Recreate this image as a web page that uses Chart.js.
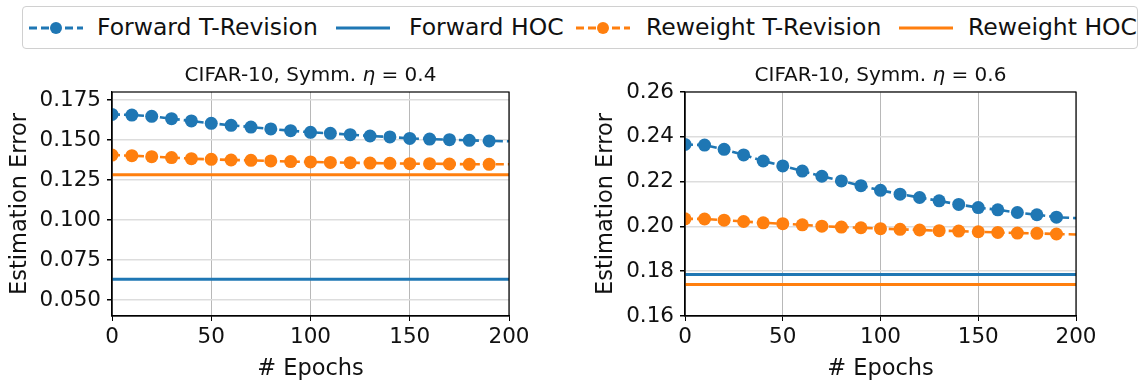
<!DOCTYPE html>
<html><head><meta charset="utf-8">
<script src="https://cdn.jsdelivr.net/npm/chart.js@4.4.0/dist/chart.umd.min.js"></script>
<style>
html,body{margin:0;padding:0;background:#fff;width:1145px;height:383px;overflow:hidden;font-family:"DejaVu Sans",sans-serif;}
#legend{position:absolute;left:22px;top:6px;width:1116px;height:43px;border:1px solid #d0d0d0;border-radius:4px;box-sizing:border-box;}
.sw{position:absolute;top:11px;}
.lt{position:absolute;top:0;height:41px;line-height:41px;font-size:23.5px;color:#111;white-space:nowrap;}
.cw{position:absolute;top:50px;}
</style></head><body>
<div id="legend"></div>
<div class="cw" style="left:0px"><canvas id="c1" width="560" height="333"></canvas></div>
<div class="cw" style="left:575px"><canvas id="c2" width="570" height="333"></canvas></div>
<script>
const BLUE = '#1f77b4', ORANGE = '#ff7f0e';
const legendLabels = ['Forward T-Revision','Forward HOC','Reweight T-Revision','Reweight HOC'];
const epochs = [0,10,20,30,40,50,60,70,80,90,100,110,120,130,140,150,160,170,180,190,200];
const hocEpochs = [0,200];
// left panel: eta = 0.4
const leftFwdTRev = [0.1660,0.1656,0.1648,0.1633,0.1619,0.1604,0.1592,0.1581,0.1569,0.1558,0.1548,0.1542,0.1533,0.1525,0.1519,0.1510,0.1506,0.1502,0.1498,0.1494,0.1492];
const leftRwTRev  = [0.1406,0.1402,0.1396,0.1390,0.1383,0.1379,0.1375,0.1373,0.1369,0.1365,0.1363,0.1360,0.1358,0.1356,0.1354,0.1352,0.1352,0.1350,0.1348,0.1348,0.1348];
const leftFwdHOC = 0.0629;
const leftRwHOC  = 0.1283;
const leftYTicks = [0.050,0.075,0.100,0.125,0.150,0.175];
// right panel: eta = 0.6
const rightFwdTRev = [0.2366,0.2363,0.2344,0.2319,0.2292,0.2270,0.2247,0.2224,0.2203,0.2182,0.2161,0.2144,0.2129,0.2114,0.2098,0.2084,0.2074,0.2062,0.2052,0.2041,0.2037];
const rightRwTRev  = [0.2034,0.2033,0.2028,0.2022,0.2016,0.2012,0.2007,0.2001,0.1997,0.1994,0.1990,0.1987,0.1984,0.1981,0.1979,0.1976,0.1973,0.1970,0.1969,0.1966,0.1964];
const rightFwdHOC = 0.1785;
const rightRwHOC  = 0.1741;
const rightYTicks = [0.16,0.18,0.20,0.22,0.24,0.26];
const xTicks = [0,50,100,150,200];

// legend (positions relative to legend box)
const swatchX = [6, 313, 553, 876];
const textX = [74, 386, 623, 945];
const legendDefs = [[BLUE,true],[BLUE,false],[ORANGE,true],[ORANGE,false]];
const lg = document.getElementById('legend');
legendLabels.forEach((t,i)=>{
  const [c,m] = legendDefs[i];
  const line = m ? `<line x1="0" y1="10" x2="54" y2="10" stroke="${c}" stroke-width="3" stroke-dasharray="8,4"/><circle cx="27" cy="10" r="6" fill="${c}"/>`
                 : `<line x1="0" y1="10" x2="54" y2="10" stroke="${c}" stroke-width="3"/>`;
  const s = document.createElement('div'); s.className='sw'; s.style.left = swatchX[i]+'px';
  s.innerHTML = `<svg width="54" height="20">${line}</svg>`;
  const tx = document.createElement('div'); tx.className='lt'; tx.style.left = textX[i]+'px'; tx.textContent = t;
  lg.appendChild(s); lg.appendChild(tx);
});

function pts(xs, ys){ return xs.map((x,i)=>({x, y:ys[i]})); }
function flat(v){ return hocEpochs.map(x=>({x, y:v})); }

const framePlugin = {
  id:'frame',
  afterDraw(chart){
    const {ctx, chartArea:a} = chart;
    const o = chart.options.plugins.frame;
    ctx.save();
    ctx.strokeStyle = '#000'; ctx.lineWidth = 1.2;
    ctx.strokeRect(a.left, a.top, a.right-a.left, a.bottom-a.top);
    // title with italic eta
    const parts = [['CIFAR-10, Symm. ','normal'],['η','italic'],[' = '+o.eta,'normal']];
    const fs = '20px "DejaVu Sans"';
    let w = 0;
    parts.forEach(p=>{ ctx.font = p[1]+' '+fs; w += ctx.measureText(p[0]).width; });
    let x = (a.left+a.right)/2 - w/2;
    ctx.fillStyle = '#111'; ctx.textBaseline = 'middle'; ctx.textAlign='left';
    parts.forEach(p=>{ ctx.font = p[1]+' '+fs; ctx.fillText(p[0], x, o.titleY); x += ctx.measureText(p[0]).width; });
    ctx.restore();
  }
};

function makeChart(id, fwd, rw, fwdH, rwH, yTicks, ymin, ymax, dec, yW, padR, eta, yTitlePad){
  const markerR = (ctx)=> (ctx.raw && ctx.raw.x >= 200) ? 0 : 6.5;
  return new Chart(document.getElementById(id), {
    type:'line',
    data:{ datasets:[
      {label:legendLabels[0], data:pts(epochs,fwd), borderColor:BLUE, backgroundColor:BLUE, borderWidth:2.6, borderDash:[8,4], pointRadius:markerR, pointBorderWidth:0, pointHoverRadius:0, tension:0},
      {label:legendLabels[1], data:flat(fwdH), borderColor:BLUE, borderWidth:3, pointRadius:0},
      {label:legendLabels[2], data:pts(epochs,rw), borderColor:ORANGE, backgroundColor:ORANGE, borderWidth:2.6, borderDash:[8,4], pointRadius:markerR, pointBorderWidth:0, pointHoverRadius:0, tension:0},
      {label:legendLabels[3], data:flat(rwH), borderColor:ORANGE, borderWidth:3, pointRadius:0}
    ]},
    options:{
      responsive:false, animation:false, events:[],
      layout:{padding:{top:42, right:padR, left:0, bottom:0}},
      plugins:{legend:{display:false}, tooltip:{enabled:false}, frame:{eta, titleY:26}},
      scales:{
        x:{type:'linear', min:0, max:200,
           afterBuildTicks:s=>{ s.ticks = xTicks.map(v=>({value:v})); },
           afterFit:s=>{ s.height = 67; },
           ticks:{font:{family:'DejaVu Sans', size:21.5}, color:'#111', padding:4, maxRotation:0, callback:v=>String(v)},
           grid:{color:'#b8b8b8', lineWidth:1, tickColor:'#000', tickLength:5},
           border:{color:'#000', width:1.2},
           title:{display:true, text:'# Epochs', font:{family:'DejaVu Sans', size:22.5}, color:'#111', padding:{top:0,bottom:0}}
        },
        y:{type:'linear', min:ymin, max:ymax,
           afterBuildTicks:s=>{ s.ticks = yTicks.map(v=>({value:v})); },
           afterFit:s=>{ s.width = yW; },
           ticks:{font:{family:'DejaVu Sans', size:21.5}, color:'#111', padding:6, callback:v=>v.toFixed(dec)},
           grid:{color:'#dddddd', lineWidth:1.5, tickColor:'#000', tickLength:5},
           border:{color:'#000', width:1.2},
           title:{display:true, text:'Estimation Error', font:{family:'DejaVu Sans', size:22.5}, color:'#111', padding:{top:yTitlePad,bottom:0}}
        }
      }
    },
    plugins:[framePlugin]
  });
}
makeChart('c1', leftFwdTRev, leftRwTRev, leftFwdHOC, leftRwHOC, leftYTicks, 0.040, 0.180, 3, 112, 51, '0.4', 7);
makeChart('c2', rightFwdTRev, rightRwTRev, rightFwdHOC, rightRwHOC, rightYTicks, 0.16, 0.26, 2, 110, 69, '0.6', 18);
</script>
</body></html>
